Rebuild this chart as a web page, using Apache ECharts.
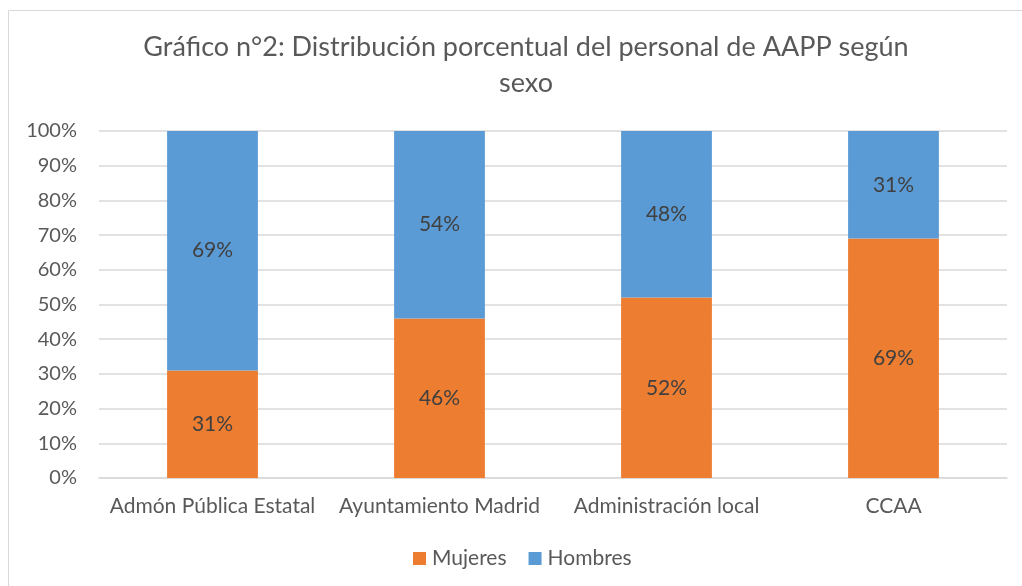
<!DOCTYPE html>
<html>
<head>
<meta charset="utf-8">
<script src="https://cdn.jsdelivr.net/npm/echarts@6/dist/echarts.min.js"></script>
<style>
  html, body { margin: 0; padding: 0; background: #fff; }
  #chart { width: 1022px; height: 586px; }
</style>
</head>
<body>
<div id="chart"></div>
<script>
// datos
const categorias = ['Admón Pública Estatal', 'Ayuntamiento Madrid', 'Administración local', 'CCAA'];
const mujeres = [31, 46, 52, 69];
const hombres = [69, 54, 48, 31];
const yTicks = [0, 10, 20, 30, 40, 50, 60, 70, 80, 90, 100];

const FONT = 'Lato, "Open Sans", sans-serif';
const chart = echarts.init(document.getElementById('chart'));

const option = {
  backgroundColor: '#fff',
  textStyle: { fontFamily: FONT },
  title: {
    text: 'Gráfico n°2: Distribución porcentual del personal de AAPP según\nsexo',
    left: 521,
    textAlign: 'center',
    top: 24,
    textStyle: { fontFamily: FONT, fontSize: 27, fontWeight: 'normal', color: '#595959', lineHeight: 36 }
  },
  legend: {
    data: ['Mujeres', 'Hombres'],
    bottom: 12,
    left: 408,
    itemWidth: 13,
    itemHeight: 13,
    itemGap: 22,
    icon: 'rect',
    textStyle: { fontFamily: FONT, fontSize: 21, color: '#595959', padding: [0, 0, 0, 1] }
  },
  grid: { left: 99, right: 15, top: 131, bottom: 108, containLabel: false },
  xAxis: {
    type: 'category',
    data: categorias,
    axisTick: { show: false },
    axisLine: { lineStyle: { color: '#d9d9d9', width: 1.5 } },
    axisLabel: { fontFamily: FONT, fontSize: 21, color: '#595959', margin: 18, interval: 0 }
  },
  yAxis: {
    type: 'value',
    min: yTicks[0],
    max: yTicks[yTicks.length - 1],
    interval: 10,
    axisLine: { show: false },
    axisTick: { show: false },
    splitLine: { lineStyle: { color: '#d9d9d9', width: 1.5 } },
    axisLabel: { fontFamily: FONT, fontSize: 20, color: '#595959', margin: 22, formatter: '{value}%' }
  },
  series: [
    {
      name: 'Mujeres',
      type: 'bar',
      stack: 'total',
      data: mujeres,
      barWidth: '40%',
      itemStyle: { color: '#ED7D31' },
      label: { show: true, position: 'inside', formatter: '{c}%', fontFamily: FONT, fontSize: 21, color: '#404040' }
    },
    {
      name: 'Hombres',
      type: 'bar',
      stack: 'total',
      data: hombres,
      barWidth: '40%',
      itemStyle: { color: '#5B9BD5' },
      label: { show: true, position: 'inside', formatter: '{c}%', fontFamily: FONT, fontSize: 21, color: '#404040' }
    }
  ],
  graphic: [{
    type: 'rect',
    shape: { x: 8.5, y: 10.5, width: 1030, height: 600 },
    style: { fill: 'none', stroke: '#d9d9d9', lineWidth: 1 },
    silent: true,
    z: -1
  }]
};

chart.setOption(option);
</script>
</body>
</html>
